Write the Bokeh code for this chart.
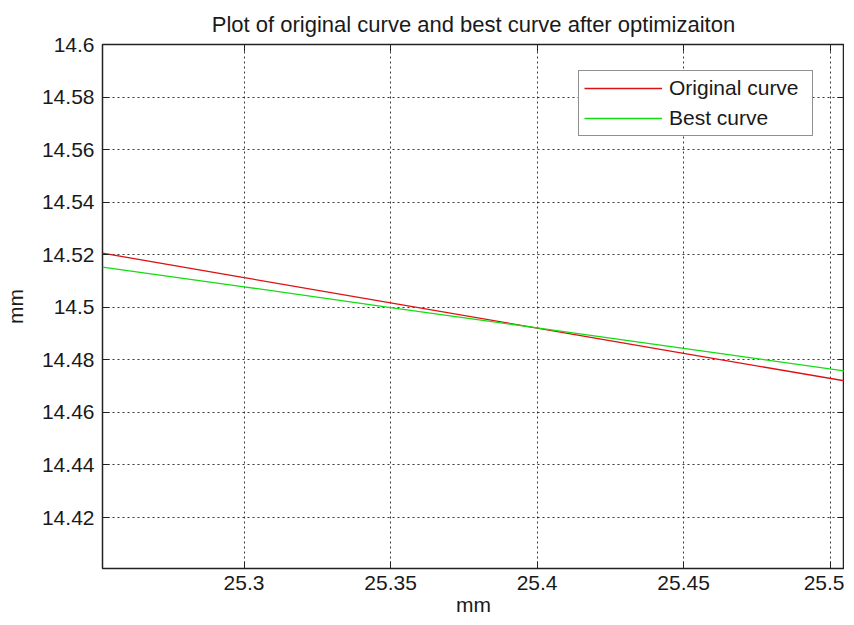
from bokeh.plotting import figure
from bokeh.models import Range1d, FixedTicker, LinearAxis, Legend, LegendItem
from bokeh.embed import file_html
from bokeh.resources import INLINE

# ---- data ----
x_vals = [25.2517, 25.30, 25.35, 25.40, 25.45, 25.5049]
original_curve = [14.5206, 14.5113, 14.5017, 14.4921, 14.4825, 14.4720]
best_curve = [14.5153, 14.5078, 14.4999, 14.4922, 14.4844, 14.4758]

x_ticks = [25.30, 25.35, 25.40, 25.45, 25.50]
x_tick_labels = ["25.3", "25.35", "25.4", "25.45", "25.5"]
y_ticks = [14.42, 14.44, 14.46, 14.48, 14.50, 14.52, 14.54, 14.56, 14.58, 14.60]
y_tick_labels = ["14.42", "14.44", "14.46", "14.48", "14.5", "14.52", "14.54", "14.56", "14.58", "14.6"]

x_min, x_max = 25.2517, 25.5049
y_min, y_max = 14.4006, 14.6000

FONT = "Liberation Sans"
TXT = "#1a1a1a"

p = figure(frame_width=742, frame_height=524,
           x_range=Range1d(x_min, x_max), y_range=Range1d(y_min, y_max),
           output_backend="svg", toolbar_location=None,
           title="Plot of original curve and best curve after optimizaiton",
           min_border_left=95, min_border_right=0, min_border_top=44, min_border_bottom=0)

p.background_fill_color = "white"
p.border_fill_color = "white"
p.outline_line_color = "#222222"
p.outline_line_width = 1.5

p.title.align = "center"
p.title.text_font = FONT
p.title.text_font_size = "22px"
p.title.text_font_style = "normal"
p.title.text_color = TXT
p.title.text_line_height = 0.6
p.title.standoff = 16

def style_axis(ax, show_labels=True):
    ax.axis_line_color = None
    ax.major_tick_in = 7
    ax.major_tick_out = 0
    ax.minor_tick_line_color = None
    ax.major_tick_line_color = "#222222"
    ax.major_tick_line_width = 1
    if show_labels:
        ax.major_label_text_font = FONT
        ax.major_label_text_font_size = "21px"
        ax.major_label_text_color = TXT
        ax.axis_label_text_font = FONT
        ax.axis_label_text_font_size = "21px"
        ax.axis_label_text_font_style = "normal"
        ax.axis_label_text_color = TXT
    else:
        ax.major_label_text_font_size = "1px"
        ax.major_label_text_color = None
        ax.major_label_standoff = 0

xa = p.xaxis[0]
ya = p.yaxis[0]
xa.ticker = FixedTicker(ticks=x_ticks)
xa.major_label_overrides = dict(zip(x_ticks, x_tick_labels))
ya.ticker = FixedTicker(ticks=y_ticks)
ya.major_label_overrides = dict(zip(y_ticks, y_tick_labels))
xa.axis_label = "mm"
ya.axis_label = "mm"
style_axis(xa)
style_axis(ya)
xa.major_label_standoff = 7
xa.axis_label_standoff = 0
ya.major_label_standoff = 8
ya.axis_label_standoff = 12

top_ax = LinearAxis(ticker=FixedTicker(ticks=x_ticks))
right_ax = LinearAxis(ticker=FixedTicker(ticks=y_ticks))
style_axis(top_ax, show_labels=False)
style_axis(right_ax, show_labels=False)
p.add_layout(top_ax, "above")
p.add_layout(right_ax, "right")

p.xgrid.ticker = FixedTicker(ticks=x_ticks)
p.ygrid.ticker = FixedTicker(ticks=y_ticks)
for g in (p.xgrid[0], p.ygrid[0]):
    g.grid_line_color = "#222222"
    g.grid_line_dash = "2 3"
    g.grid_line_width = 1
    g.grid_line_alpha = 0.9

r1 = p.line(x_vals, original_curve, line_color="#dd1111", line_width=1.3)
r2 = p.line(x_vals, best_curve, line_color="#11dd11", line_width=1.3)

legend = Legend(items=[LegendItem(label="Original curve", renderers=[r1]),
                       LegendItem(label="Best curve", renderers=[r2])],
                location=(476, 432))
legend.label_text_font = FONT
legend.label_text_font_size = "21px"
legend.label_text_color = TXT
legend.border_line_color = "#222222"
legend.border_line_width = 1
legend.background_fill_color = "white"
legend.background_fill_alpha = 1
legend.padding = 5
legend.spacing = 6
legend.margin = 0
legend.glyph_width = 78
legend.label_standoff = 7
legend.label_width = 138
p.add_layout(legend, "center")

open("out.html", "w").write(file_html(p, INLINE))
